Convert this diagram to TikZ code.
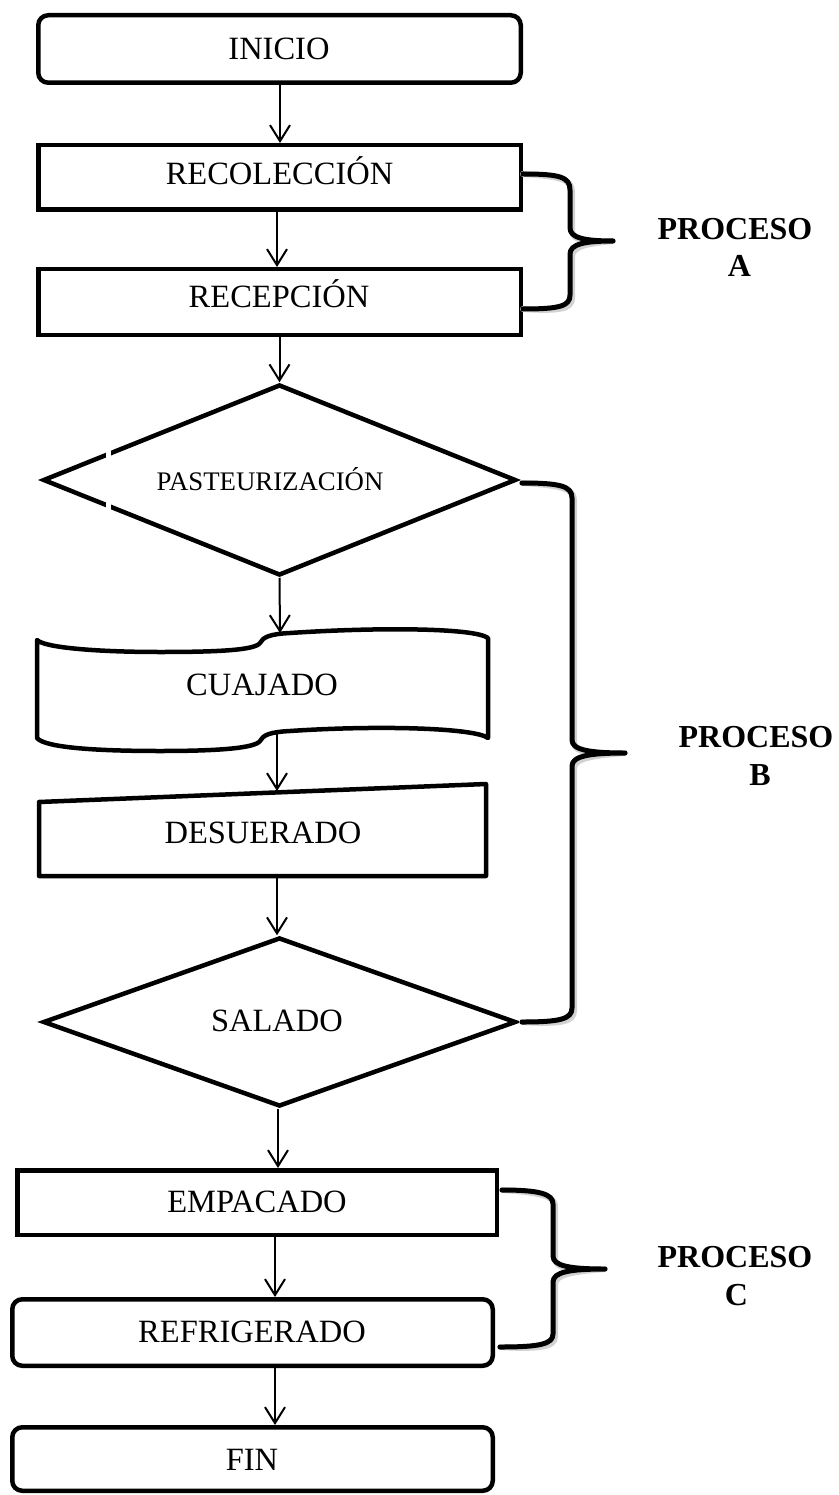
\documentclass[tikz,border=0pt]{standalone}
\usepackage{fontspec}
\setmainfont{Liberation Serif}
\usetikzlibrary{arrows.meta,shapes.geometric}
\tikzset{
  shp/.style={draw=black, line width=4.5pt, inner sep=0pt, fill=white},
  boxn/.style={shp, rectangle},
  rboxn/.style={shp, rectangle, rounded corners=10pt},
  dmd/.style={shp, diamond},
  lbl/.style={anchor=base, inner sep=0pt, font=\fontsize{32.5}{39}\selectfont},
  smalllbl/.style={anchor=base, inner sep=0pt, font=\fontsize{26.8}{32}\selectfont},
  proc/.style={anchor=base, inner sep=0pt, font=\bfseries\fontsize{32}{38}\selectfont},
  arr/.style={line width=2pt, -{Straight Barb[length=16pt,width=20pt,line width=2pt]}},
  brc/.style={line width=5pt, line cap=round, line join=round},
  brcshadow/.style={line width=6pt, draw=gray!35, line cap=round, line join=round, shift={(2,2.5)}}
}
\begin{document}
\begin{tikzpicture}[x=1pt,y=-1pt]
\useasboundingbox[fill=white] (0,0) rectangle (838,1495);

% ---- shapes ----
\node[rboxn, minimum width=482.5pt, minimum height=67.5pt] (inicio) at (279.5,49) {};
\node[boxn, minimum width=482.5pt, minimum height=64.5pt] (recol) at (279.5,177.5) {};
\node[boxn, minimum width=482.5pt, minimum height=65.5pt] (recep) at (279.5,302) {};
\node[dmd, minimum width=473pt, minimum height=191pt] (pasteur) at (279.5,480) {};

% CUAJADO (wavy document-like shape)
\draw[line width=4.5pt, line join=round]
  (37,640) .. controls (45,648) and (100,652) .. (160,652)
  .. controls (220,652) and (255,650) .. (260,643)
  .. controls (263,637) and (270,634) .. (290,633)
  .. controls (380,627) and (475,628) .. (488,638)
  -- (488,738)
  .. controls (475,728) and (380,725) .. (290,731)
  .. controls (270,732) and (263,735) .. (260,741)
  .. controls (255,748) and (220,751) .. (160,751)
  .. controls (100,751) and (45,748) .. (37,738) -- cycle;
\coordinate (cuajtop) at (280,633);
\coordinate (cuajbot) at (277,731);

% DESUERADO (manual input shape)
\draw[line width=4.5pt, line join=round]
  (39,802) -- (486,784) -- (486,876) -- (39,876) -- cycle;
\coordinate (desutop) at (277,791);
\coordinate (desubot) at (277,876);

\node[dmd, minimum width=473pt, minimum height=169pt] (salado) at (279.5,1022) {};
\node[boxn, minimum width=479.5pt, minimum height=64.5pt] (empac) at (257,1202.5) {};
\node[rboxn, minimum width=480.5pt, minimum height=66.5pt] (refri) at (252.5,1332.5) {};
\node[rboxn, minimum width=480.5pt, minimum height=63.5pt] (fin) at (252.5,1459) {};

% small gaps in the first diamond's left edges
\fill[white] (106,443) rectangle (111,458);
\fill[white] (106,502) rectangle (111,517);

% ---- labels ----
\node[lbl] (tInicio) at (279,60) {INICIO};
\node[lbl] (tRecol) at (279.5,185) {RECOLECCIÓN};
\node[lbl] (tRecep) at (279,308) {RECEPCIÓN};
\node[smalllbl] (tPast) at (270,490) {PASTEURIZACIÓN};
\node[lbl] (tCuaj) at (262,695) {CUAJADO};
\node[lbl] (tDesu) at (263,843) {DESUERADO};
\node[lbl] (tSal) at (277,1031) {SALADO};
\node[lbl] (tEmp) at (257,1212) {EMPACADO};
\node[lbl] (tRef) at (252,1342) {REFRIGERADO};
\node[lbl] (tFin) at (252,1470) {FIN};

% ---- connectors ----
\draw[arr] ([xshift=0.5pt]inicio.south) -- ([xshift=0.5pt]recol.north);
\draw[arr] ([xshift=-2.5pt]recol.south) -- ([xshift=-2.5pt]recep.north);
\draw[arr] (recep.south) -- (pasteur.north);
\draw[arr] (pasteur.south) -- (cuajtop);
\draw[arr] (cuajbot) -- (desutop);
\draw[arr] (desubot) -- ([xshift=-2.5pt]salado.north);
\draw[arr] ([xshift=-1.5pt]salado.south) -- ([xshift=21pt]empac.north);
\draw[arr] ([xshift=18pt]empac.south) -- ([xshift=22.5pt]refri.north);
\draw[arr] ([xshift=22.5pt]refri.south) -- ([xshift=22.5pt]fin.north);

% ---- braces ----
\coordinate (braStart) at (523,174);
\coordinate (braTip) at (613,241);
\coordinate (braEnd) at (523,309);
\coordinate (brbStart) at (522,483);
\coordinate (brbTip) at (625,753);
\coordinate (brbEnd) at (522,1022);
\coordinate (brcStart) at (502,1190);
\coordinate (brcTip) at (605,1269);
\coordinate (brcEnd) at (500,1347);

\foreach \st in {brcshadow,brc}{
\draw[\st] (braStart) .. controls (560,174) and (570,177) .. (570,190) -- (570,228)
  .. controls (570,238) and (585,241) .. (braTip)
  .. controls (585,241) and (570,244) .. (570,254) -- (570,295)
  .. controls (570,306) and (560,309) .. (braEnd);
\draw[\st] (brbStart) .. controls (560,483) and (572,486) .. (572,498) -- (572,740)
  .. controls (572,750) and (590,753) .. (brbTip)
  .. controls (590,753) and (572,756) .. (572,766) -- (572,1008)
  .. controls (572,1019) and (560,1022) .. (brbEnd);
\draw[\st] (brcStart) .. controls (540,1190) and (553,1194) .. (553,1204) -- (553,1256)
  .. controls (553,1266) and (570,1269) .. (brcTip)
  .. controls (570,1269) and (553,1272) .. (553,1282) -- (553,1334)
  .. controls (553,1344) and (540,1347) .. (brcEnd);
}

% ---- process labels ----
\node[proc] (procA1) at (735,240) {PROCESO};
\node[proc] (procA2) at (739.5,277) {A};
\node[proc] (procB1) at (756,747) {PROCESO};
\node[proc] (procB2) at (760,785) {B};
\node[proc] (procC1) at (735,1267) {PROCESO};
\node[proc] (procC2) at (736.5,1305) {C};
\end{tikzpicture}
\end{document}
